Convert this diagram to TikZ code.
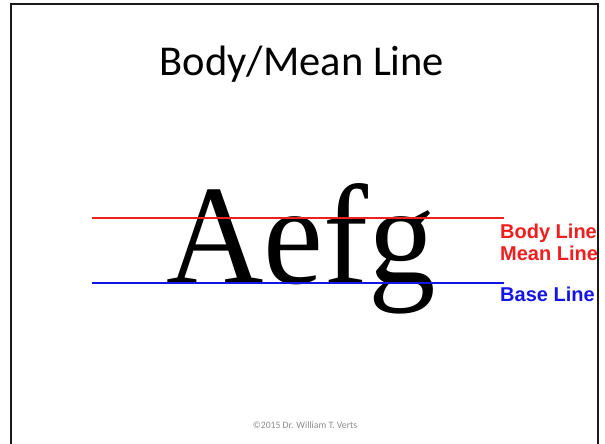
\documentclass[tikz,border=0pt]{standalone}
\usepackage{fontspec}
\setmainfont{Carlito}
\newfontfamily\timesf{Liberation Serif}
\newfontfamily\arialf{Liberation Sans}
\definecolor{redline}{RGB}{240,30,30}
\definecolor{blueline}{RGB}{20,20,230}
\definecolor{copygray}{RGB}{140,140,140}
\begin{document}
\begin{tikzpicture}[x=1pt,y=-1pt,
  guide/.style={line width=2pt},
  lbl/.style={anchor=base west,inner sep=0pt,font=\arialf\bfseries\fontsize{20}{20}\selectfont}]
\useasboundingbox (0,0) rectangle (605,444);
\fill[white] (0,0) rectangle (605,444);
\draw[line width=2.6pt,black!90] (11,444) -- (11,4) -- (598,4) -- (598,444);
\node[anchor=base,inner sep=0pt,font=\fontsize{42.5}{44}\selectfont] (title) at (302,76) {Body/Mean Line};
\coordinate (rl) at (92,218); \coordinate (rr) at (504,218);
\coordinate (bl) at (92,283); \coordinate (br) at (504,283);
\node[anchor=base,inner sep=0pt,font=\timesf\fontsize{142}{142}\selectfont,xscale=0.95] (word) at (301,283) {Aefg};
\draw[guide,redline] (rl) -- (rr);
\draw[guide,blueline] (bl) -- (br);
\node[lbl,text=redline] (body) at (500,238) {Body Line};
\node[lbl,text=redline] (mean) at (500,260) {Mean Line};
\node[lbl,text=blueline] (base) at (500,301) {Base Line};
\node[anchor=base,inner sep=0pt,text=copygray,font=\fontsize{9.7}{10}\selectfont] (copy) at (305,428) {\textcopyright2015 Dr. William T. Verts};
\end{tikzpicture}
\end{document}
